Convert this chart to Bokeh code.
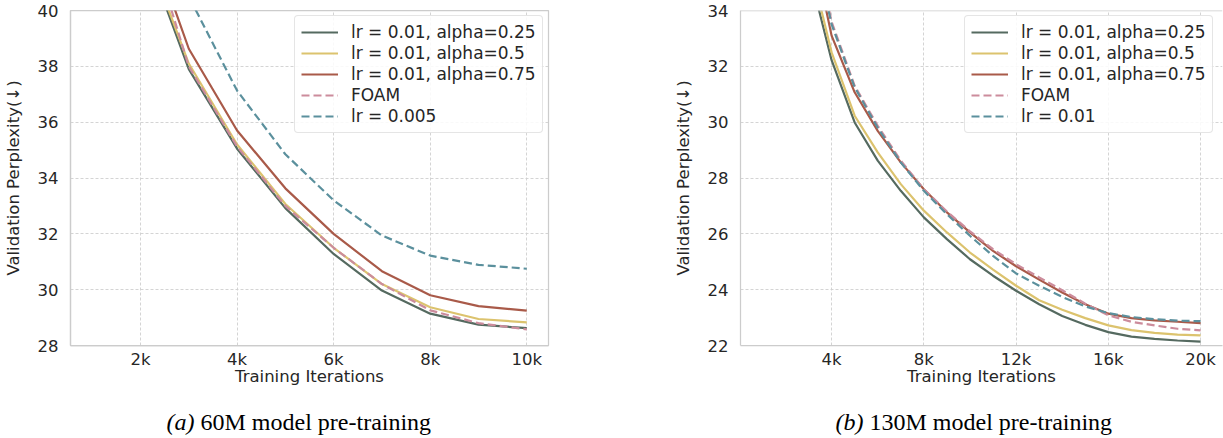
from bokeh.plotting import figure
from bokeh.layouts import row, column
from bokeh.models import Range1d, FixedTicker, Label, Span
from bokeh.embed import file_html
from bokeh.resources import INLINE

# ---------------- data ----------------
iters_a = [1000, 2000, 3000, 4000, 5000, 6000, 7000, 8000, 9000, 10000]
a_alpha025 = [62.0, 42.6, 37.9, 35.05, 32.92, 31.28, 29.97, 29.14, 28.75, 28.62]
a_alpha050 = [62.5, 42.7, 38.1, 35.2, 33.07, 31.5, 30.2, 29.37, 28.95, 28.83]
a_alpha075 = [64.0, 43.5, 38.63, 35.7, 33.63, 32.0, 30.66, 29.8, 29.41, 29.25]
a_foam = [63.0, 43.6, 38.0, 35.13, 33.0, 31.5, 30.2, 29.26, 28.8, 28.58]
a_lr = [75.0, 50.0, 40.5, 37.13, 34.85, 33.2, 31.94, 31.22, 30.89, 30.75]
a_lr_label = "lr = 0.005"

iters_b = [1000, 2000, 3000, 4000, 5000, 6000, 7000, 8000, 9000, 10000,
           11000, 12000, 13000, 14000, 15000, 16000, 17000, 18000, 19000, 20000]
b_alpha025 = [48.0, 40.0, 35.5, 32.22, 29.99, 28.62, 27.54, 26.59, 25.81, 25.09,
              24.5, 23.96, 23.48, 23.06, 22.74, 22.48, 22.32, 22.24, 22.18, 22.14]
b_alpha050 = [48.5, 40.5, 35.9, 32.5, 30.23, 28.92, 27.78, 26.83, 26.05, 25.33,
              24.72, 24.14, 23.62, 23.28, 22.98, 22.72, 22.55, 22.45, 22.39, 22.36]
b_alpha075 = [50.0, 42.0, 37.0, 33.1, 31.07, 29.69, 28.56, 27.6, 26.77, 26.05,
              25.39, 24.84, 24.36, 23.9, 23.48, 23.14, 22.98, 22.9, 22.85, 22.8]
b_foam = [51.0, 43.0, 37.4, 33.6, 31.3, 29.87, 28.62, 27.6, 26.8, 26.09,
          25.45, 24.91, 24.44, 23.98, 23.5, 23.08, 22.85, 22.72, 22.6, 22.54]
b_lr = [51.0, 43.0, 37.3, 33.5, 31.25, 29.8, 28.56, 27.54, 26.7, 25.93,
        25.21, 24.58, 24.14, 23.74, 23.4, 23.16, 23.02, 22.94, 22.89, 22.87]
b_lr_label = "lr = 0.01"

a_xticks = [2000, 4000, 6000, 8000, 10000]
a_xtick_labels = ["2k", "4k", "6k", "8k", "10k"]
b_xticks = [4000, 8000, 12000, 16000, 20000]
b_xtick_labels = ["4k", "8k", "12k", "16k", "20k"]
a_yticks = [28, 30, 32, 34, 36, 38, 40]
b_yticks = [22, 24, 26, 28, 30, 32, 34]

series_labels = ["lr = 0.01, alpha=0.25", "lr = 0.01, alpha=0.5",
                 "lr = 0.01, alpha=0.75", "FOAM"]
caption_a = ("(a)", "60M model pre-training")
caption_b = ("(b)", "130M model pre-training")

# ---------------- style ----------------
C_DARK = "#556a60"
C_YEL = "#dcc36e"
C_RUST = "#a95a49"
C_PINK = "#cc8c9c"
C_TEAL = "#5b909d"
GRID = "#cfcfcf"
SPINE = "#cccccc"
TXT = "#262626"
FONT = "DejaVu Sans"
CAP_FONT = "Liberation Serif"


def make_panel(xs, ys_list, lr_label, xr, yr, xticks, xlabels, yticks,
               width, bl, br, full_outline):
    p = figure(width=width, height=400, x_range=Range1d(*xr), y_range=Range1d(*yr),
               output_backend="svg", toolbar_location=None,
               min_border_left=bl, min_border_right=br,
               min_border_top=10, min_border_bottom=55)
    p.background_fill_color = "white"
    p.border_fill_color = "white"
    if full_outline:
        p.outline_line_color = SPINE
        p.outline_line_width = 1.25
    else:
        p.outline_line_color = None
        p.add_layout(Span(location=yr[1], dimension="width",
                          line_color=SPINE, line_width=1.25))

    labels = series_labels + [lr_label]
    colors = [C_DARK, C_YEL, C_RUST, C_PINK, C_TEAL]
    dashes = ["solid", "solid", "solid", "8 4", "8 4"]
    for ys, lab, c, d in zip(ys_list, labels, colors, dashes):
        p.line(xs, ys, line_color=c, line_width=2.2, line_dash=d,
               line_join="round", legend_label=lab)

    for ax in (p.xaxis[0], p.yaxis[0]):
        ax.axis_line_color = SPINE
        ax.axis_line_width = 1.25
        ax.major_tick_line_color = None
        ax.minor_tick_line_color = None
        ax.major_label_text_font = FONT
        ax.major_label_text_font_size = "16.5px"
        ax.major_label_text_color = TXT
        ax.axis_label_text_font = FONT
        ax.axis_label_text_font_size = "16.5px"
        ax.axis_label_text_font_style = "normal"
        ax.axis_label_text_color = TXT

    p.xaxis.ticker = FixedTicker(ticks=xticks)
    p.xaxis.major_label_overrides = {t: l for t, l in zip(xticks, xlabels)}
    p.yaxis.ticker = FixedTicker(ticks=yticks)
    p.xaxis.axis_label = "Training Iterations"
    p.yaxis.axis_label = "Validation Perplexity(\u2193)"
    p.xaxis.major_label_standoff = -2
    p.xaxis.axis_label_standoff = -5
    p.yaxis.major_label_standoff = 6
    p.yaxis.axis_label_standoff = 12

    for g in (p.xgrid[0], p.ygrid[0]):
        g.grid_line_color = GRID
        g.grid_line_width = 0.9
        g.grid_line_dash = "3 2"

    lg = p.legend[0]
    lg.location = (224, 212)
    lg.label_text_font = FONT
    lg.label_text_font_size = "17px"
    lg.label_text_color = TXT
    lg.glyph_width = 37
    lg.glyph_height = 20
    lg.label_height = 20
    lg.label_standoff = 13
    lg.spacing = 1
    lg.padding = 6
    lg.margin = 0
    lg.border_line_color = SPINE
    lg.border_line_width = 1
    lg.background_fill_color = "white"
    lg.background_fill_alpha = 0.85
    lg.border_radius = 4
    return p


pa = make_panel(iters_a, [a_alpha025, a_alpha050, a_alpha075, a_foam, a_lr], a_lr_label,
                (550, 10450), (28, 40), a_xticks, a_xtick_labels, a_yticks,
                612, 66, 64, True)
pb = make_panel(iters_b, [b_alpha025, b_alpha050, b_alpha075, b_foam, b_lr], b_lr_label,
                (50, 20950), (22, 34), b_xticks, b_xtick_labels, b_yticks,
                611, 128, 1, False)

# caption strip (pixel coordinates)
cap = figure(width=1223, height=36, x_range=Range1d(0, 1223), y_range=Range1d(0, 36),
             output_backend="svg", toolbar_location=None, min_border=0)
cap.axis.visible = False
cap.grid.visible = False
cap.outline_line_color = None
cap.background_fill_color = "white"
cap.border_fill_color = "white"
for (it, rest), split in ((caption_a, 194), (caption_b, 863)):
    cap.add_layout(Label(x=split, y=15, text=it, text_font=CAP_FONT,
                         text_font_size="24px", text_font_style="italic",
                         text_align="right", text_baseline="middle", text_color="black"))
    cap.add_layout(Label(x=split + 6, y=15, text=rest, text_font=CAP_FONT,
                         text_font_size="24px", text_align="left",
                         text_baseline="middle", text_color="black"))

layout = column(row(pa, pb), cap)
open("out.html", "w").write(file_html(layout, INLINE))
